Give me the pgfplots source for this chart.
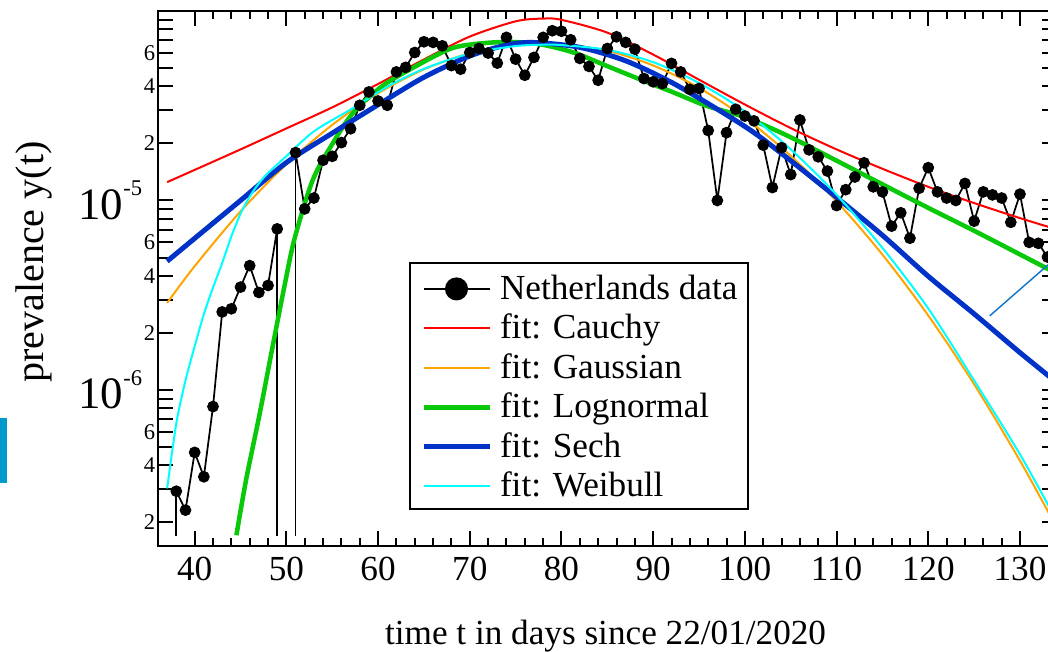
\documentclass[border=0pt]{standalone}
\usepackage{fontspec}
\setmainfont{Liberation Serif}
\usepackage{pgfplots}
\pgfplotsset{compat=1.18}
\definecolor{cauchy}{RGB}{255,0,0}
\definecolor{gauss}{RGB}{255,165,0}
\definecolor{logn}{RGB}{10,200,10}
\definecolor{sechc}{RGB}{0,50,200}
\definecolor{weib}{RGB}{0,255,255}
\definecolor{stray}{RGB}{20,120,200}
\definecolor{barc}{RGB}{0,153,204}
\newcommand{\mn}[1]{{\rmfamily\fontsize{16.9}{17}\selectfont #1}}
\newcommand{\mj}[1]{\raisebox{-1pt}{\rmfamily\fontsize{33.7}{34}\selectfont 10\raisebox{17.5pt}{\fontsize{16.9}{17}\selectfont -#1}\hspace{9.7pt}}}
\begin{document}
\begin{tikzpicture}
\begin{axis}[
  at={(0pt,0pt)}, anchor=south west,
  scale only axis,
  width=674pt, height=401.25pt,
  ymode=log,
  xmin=36, xmax=134,
  ymin=1.5e-7, ymax=1e-4,
  xtick={40,50,...,130},
  minor x tick num=4,
  major tick length=11pt,
  minor tick length=6pt,
  tick align=inside,
  tick style={black, line width=1.5pt},
  axis line style={black, line width=1.5pt},
  ytick={2e-7,3e-7,4e-7,5e-7,6e-7,7e-7,8e-7,9e-7,1e-6,2e-6,3e-6,4e-6,5e-6,6e-6,7e-6,8e-6,9e-6,1e-5,2e-5,3e-5,4e-5,5e-5,6e-5,7e-5,8e-5,9e-5,1e-4},
  yticklabels={\mn{2},{},\mn{4},{},\mn{6},{},{},{},\mj{6},\mn{2},{},\mn{4},{},\mn{6},{},{},{},\mj{5},\mn{2},{},\mn{4},{},\mn{6},{},{},{},{}},
  yticklabel style={anchor=east, inner sep=0pt, xshift=-2pt},
  /pgf/number format/assume math mode=true,
  xticklabel style={font=\rmfamily\fontsize{26.4}{28}\selectfont, inner sep=0pt, anchor=north, yshift=-8.1pt},
  xlabel={time t in days since 22/01/2020},
  xlabel style={at={(axis description cs:0.498,0)}, anchor=base, yshift=-73.5pt, font=\rmfamily\fontsize{26.4}{28}\selectfont},
  ylabel={prevalence y(t)},
  ylabel style={at={(axis description cs:-0.1269,0.5308)}, anchor=base, font=\rmfamily\fontsize{30}{32}\selectfont},
  legend style={
    at={(axis description cs:0.2797,0.5313)}, anchor=north west,
    draw=black, line width=1.5pt, fill=white,
    inner xsep=8pt, inner ysep=8pt,
    row sep=8.6pt,
    font=\rmfamily\fontsize{26.4}{29}\selectfont,
    nodes={inner sep=0pt, text height=19.5pt, text depth=1.5pt, font=\rmfamily\fontsize{26.4}{29}\selectfont},
    /tikz/every odd column/.append style={column sep=6pt},
  },
  legend cell align=left,
  legend image code/.code={\draw[#1] (0pt,-1.1pt) -- (49.5pt,-1.1pt);},
]
% data
\addplot[black, line width=1.3pt, mark=*, mark size=4pt, mark options={fill=black, line width=0.8pt},
  legend image code/.code={\draw[black, line width=1.3pt] (0pt,-1.1pt) -- (49.5pt,-1.1pt); \fill[black, overlay] (24.75pt,-1.1pt) circle (8pt);}]
coordinates {(38,2.92e-7)(39,2.32e-7)(40,4.68e-7)(41,3.48e-7)(42,8.17e-7)(43,2.58e-6)(44,2.68e-6)(45,3.49e-6)(46,4.53e-6)(47,3.27e-6)(48,3.56e-6)(49,7.08e-6)};
\addlegendentry{Netherlands data}
\addplot[forget plot, black, line width=1.3pt, mark=*, mark size=4pt, mark options={fill=black, line width=0.8pt}]
coordinates {(51,1.79e-5)(52,9.03e-6)(53,1.03e-5)(54,1.63e-5)(55,1.71e-5)(56,2.02e-5)(57,2.39e-5)(58,3.18e-5)(59,3.74e-5)(60,3.35e-5)(61,3.18e-5)(62,4.77e-5)(63,5.04e-5)(64,6.04e-5)(65,6.88e-5)(66,6.83e-5)(67,6.55e-5)(68,5.15e-5)(69,4.93e-5)(70,6.04e-5)(71,6.34e-5)(72,6.0e-5)(73,5.31e-5)(74,7.26e-5)(75,5.57e-5)(76,4.58e-5)(77,5.69e-5)(78,7.26e-5)(79,7.87e-5)(80,7.82e-5)(81,7.05e-5)(82,5.62e-5)(83,5.1e-5)(84,4.31e-5)(85,6.34e-5)(86,7.31e-5)(87,6.83e-5)(88,6.29e-5)(89,4.4e-5)(90,4.23e-5)(91,4.14e-5)(92,5.29e-5)(93,4.77e-5)(94,3.86e-5)(95,3.9e-5)(96,2.34e-5)(97,1.0e-5)(98,2.28e-5)(99,3.03e-5)(100,2.79e-5)(101,2.63e-5)(102,1.96e-5)(103,1.17e-5)(104,1.90e-5)(105,1.37e-5)(106,2.66e-5)(107,1.85e-5)(108,1.70e-5)(109,1.43e-5)(110,9.4e-6)(111,1.14e-5)(112,1.33e-5)(113,1.58e-5)(114,1.18e-5)(115,1.11e-5)(116,7.32e-6)(117,8.61e-6)(118,6.32e-6)(119,1.16e-5)(120,1.49e-5)(121,1.11e-5)(122,1.03e-5)(123,1.0e-5)(124,1.23e-5)(125,7.78e-6)(126,1.11e-5)(127,1.07e-5)(128,1.03e-5)(129,7.67e-6)(130,1.08e-5)(131,6.01e-6)(132,5.94e-6)(133,5.03e-6)};
\addplot[forget plot, black, line width=1.3pt] coordinates {(38,2.92e-7)(38,1.69e-7)};
\addplot[forget plot, black, line width=1.3pt] coordinates {(49,7.08e-6)(49,1.69e-7)};
\addplot[forget plot, black, line width=1.3pt] coordinates {(51,1.79e-5)(51,1.69e-7)};
% Cauchy
\addplot[cauchy, line width=1.5pt, smooth] coordinates {(37,1.25e-5)(40,1.45e-5)(45,1.86e-5)(50,2.40e-5)(55,3.10e-5)(60,4.12e-5)(65,5.55e-5)(70,7.33e-5)(75,8.82e-5)(78,9.12e-5)(80,8.98e-5)(85,7.69e-5)(90,5.89e-5)(95,4.34e-5)(100,3.21e-5)(105,2.41e-5)(110,1.86e-5)(115,1.47e-5)(120,1.18e-5)(125,9.69e-6)(130,8.07e-6)(134,7.04e-6)};
\addlegendentry{fit: Cauchy}
% Gaussian
\addplot[gauss, line width=1.5pt, smooth] coordinates {(37,2.88e-6)(40,4.50e-6)(45,8.76e-6)(50,1.553e-5)(55,2.506e-5)(60,3.68e-5)(65,4.92e-5)(70,5.99e-5)(75,6.65e-5)(78,6.76e-5)(80,6.71e-5)(85,6.17e-5)(90,5.16e-5)(95,3.93e-5)(100,2.73e-5)(105,1.72e-5)(110,9.89e-6)(115,5.18e-6)(120,2.47e-6)(125,1.071e-6)(130,4.23e-7)(134,1.88e-7)};
\addlegendentry{fit: Gaussian}
% Lognormal
\addplot[logn, line width=3.4pt, smooth] coordinates {(44.55,1.71e-7)(45.6,3.34e-7)(47.1,7.53e-7)(48.5,1.694e-6)(49.8,3.55e-6)(50.9,6.31e-6)(52.9,1.291e-5)(55.1,2.018e-5)(57.3,2.91e-5)(60.5,4.03e-5)(64.2,5.14e-5)(67.8,6.30e-5)(70.4,6.68e-5)(74,6.87e-5)(77.6,6.68e-5)(81.3,6.04e-5)(84.9,5.14e-5)(88.5,4.37e-5)(92.2,3.72e-5)(95.8,3.16e-5)(100,2.75e-5)(104.7,2.19e-5)(110,1.622e-5)(115,1.216e-5)(120,9.14e-6)(125,6.92e-6)(130,5.19e-6)(134,4.12e-6)};
\addlegendentry{fit: Lognormal}
% Sech
\addplot[sechc, line width=3.75pt, smooth] coordinates {(37,4.78e-6)(40,6.31e-6)(45,1.0e-5)(50,1.585e-5)(55,2.265e-5)(60,3.20e-5)(65,4.47e-5)(70,5.79e-5)(74,6.61e-5)(77,6.82e-5)(82,6.43e-5)(87,5.46e-5)(92,4.20e-5)(97,3.03e-5)(101,2.28e-5)(105,1.622e-5)(110,1.038e-5)(115,6.55e-6)(120,3.98e-6)(125,2.52e-6)(130,1.574e-6)(134,1.096e-6)};
\addlegendentry{fit: Sech}
% Weibull
\addplot[weib, line width=1.5pt, smooth] coordinates {(37,3.02e-7)(38,6.67e-7)(39,1.122e-6)(40,1.70e-6)(41,2.51e-6)(42,3.47e-6)(43,4.68e-6)(44,6.46e-6)(45,8.51e-6)(46,1.047e-5)(47,1.23e-5)(48,1.396e-5)(50,1.714e-5)(53,2.317e-5)(57,3.02e-5)(61,3.98e-5)(65,4.95e-5)(70,5.96e-5)(75,6.53e-5)(78,6.64e-5)(80,6.61e-5)(85,6.24e-5)(90,5.37e-5)(95,4.17e-5)(100,2.95e-5)(105,1.862e-5)(110,1.072e-5)(115,5.62e-6)(120,2.69e-6)(125,1.122e-6)(130,4.57e-7)(134,2.04e-7)};
\addlegendentry{fit: Weibull}
% stray segment
\addplot[forget plot, stray, line width=1.1pt] coordinates {(126.7,2.46e-6)(134,5.01e-6)};
\end{axis}
\fill[barc] (-118.5pt,47.25pt) rectangle (-113.25pt,96pt);
\pgfresetboundingbox
\useasboundingbox (-118.5pt,-78.75pt) rectangle (667.5pt,409.5pt);
\end{tikzpicture}
\end{document}
